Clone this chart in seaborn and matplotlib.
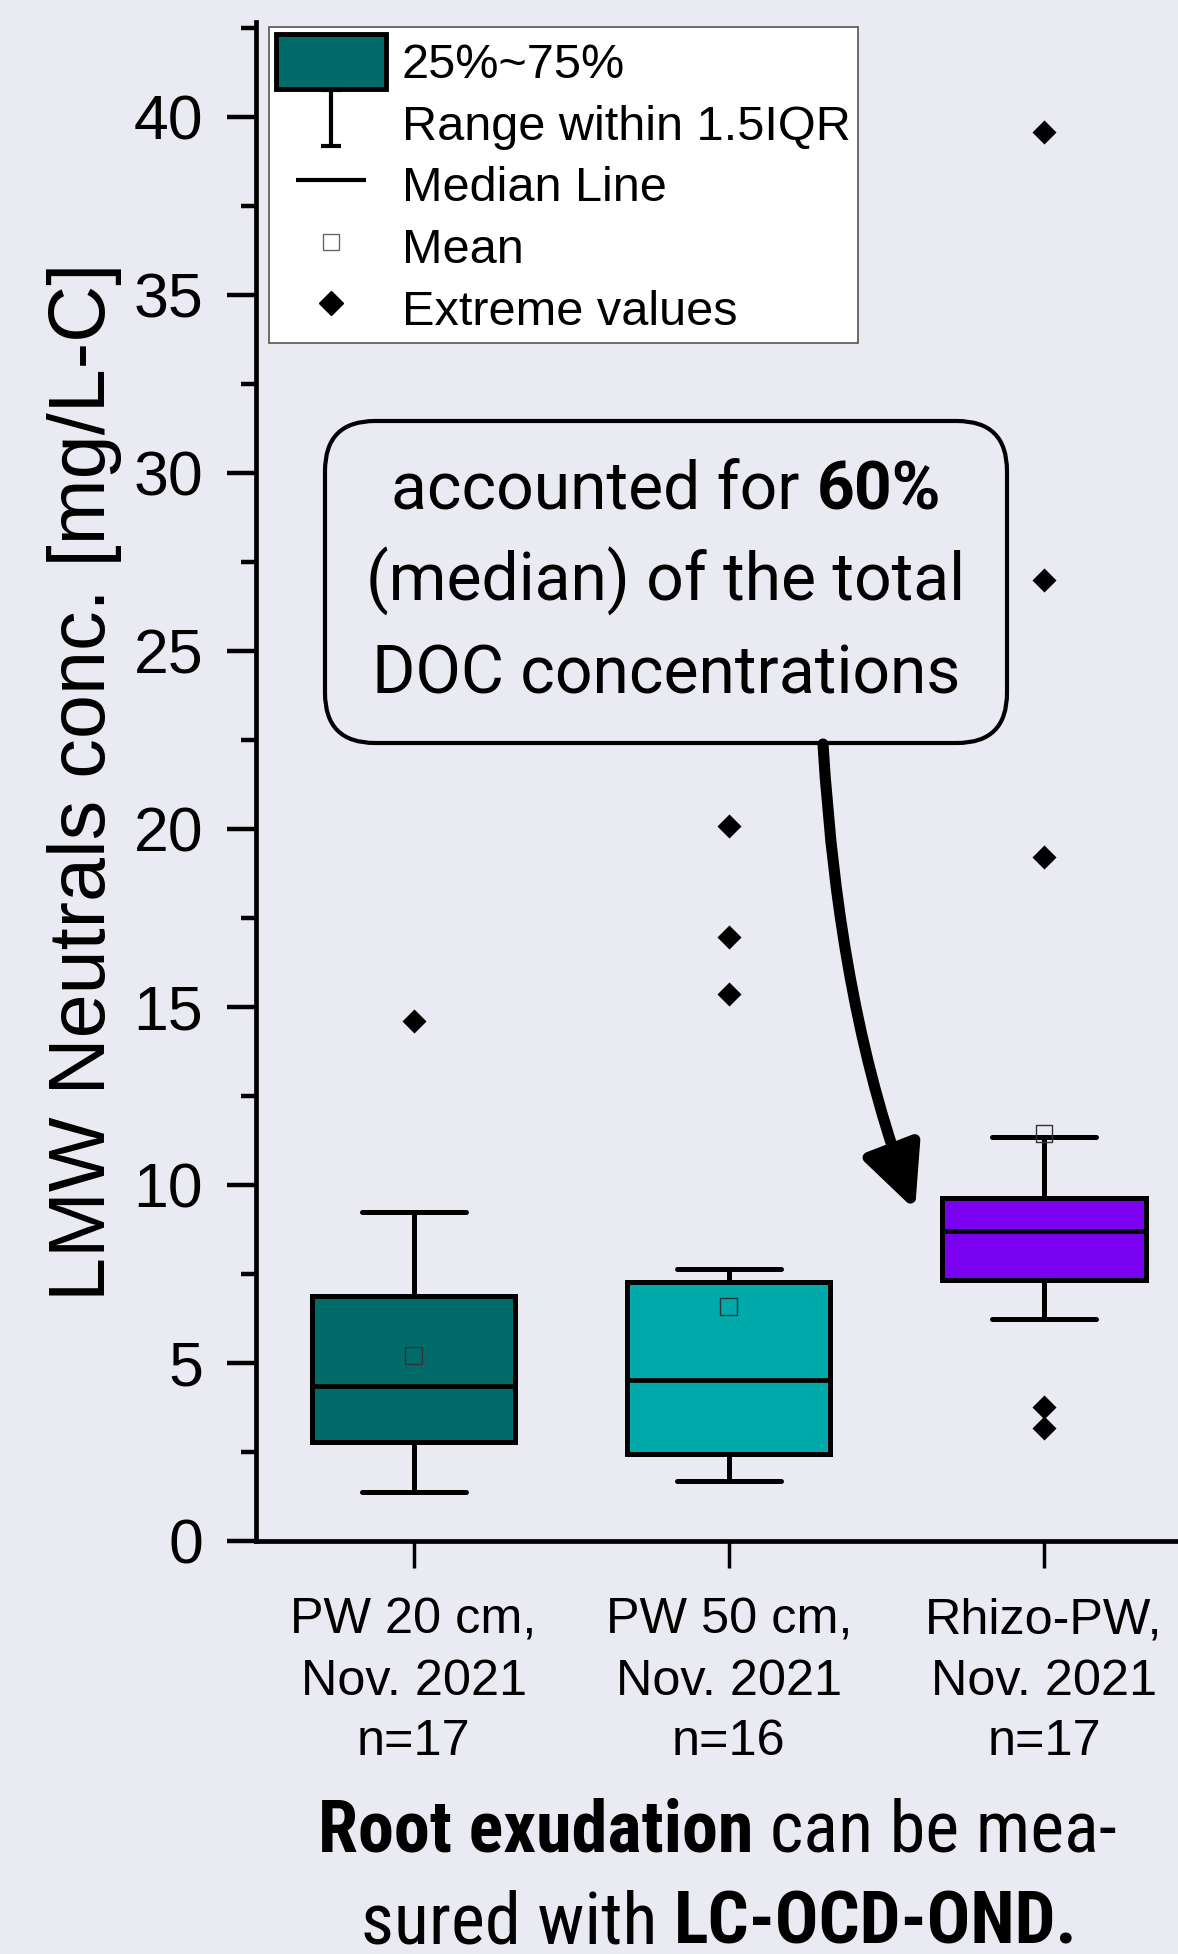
import matplotlib

matplotlib.use("Agg")
import matplotlib.pyplot as plt
import pandas as pd
import seaborn as sns
from matplotlib import font_manager
from matplotlib.lines import Line2D
from matplotlib.patches import ArrowStyle, FancyArrowPatch, FancyBboxPatch, Patch
from matplotlib.path import Path
from matplotlib.ticker import MultipleLocator

# box statistics
groups = ["PW 20 cm,\nNov. 2021\nn=17", "PW 50 cm,\nNov. 2021\nn=16", "Rhizo-PW,\nNov. 2021\nn=17"]
box_colors = ["#006B69", "#00A9AA", "#7A00F0"]
q1 = [2.77, 2.44, 7.33]
median = [4.35, 4.52, 8.71]
q3 = [6.88, 7.28, 9.64]
whisker_low = [1.37, 1.67, 6.23]
whisker_high = [9.25, 7.64, 11.35]
means = [5.21, 6.58, 11.45]
extreme_group = [0, 1, 1, 1, 2, 2, 2, 2, 2]
extreme_values = [14.61, 20.08, 16.97, 15.37, 39.58, 27.0, 19.2, 3.77, 3.16]

legend_labels = ["25%~75%", "Range within 1.5IQR", "Median Line", "Mean", "Extreme values"]
ylabel = "LMW Neutrals conc. [mg/L-C]"

BG = "#EAEAF2"
sns.set_theme(style="ticks", rc={"axes.facecolor": BG, "figure.facecolor": BG, "savefig.facecolor": BG})
plt.rcParams["font.family"] = ["Liberation Sans", "DejaVu Sans"]

installed = {f.name for f in font_manager.fontManager.ttflist}
if "Roboto Condensed" in installed:
    cond_family, cond_size = "Roboto Condensed", 52
elif "Liberation Sans Narrow" in installed:
    cond_family, cond_size = "Liberation Sans Narrow", 52
else:
    cond_family, cond_size = "Roboto", 45

fig = plt.figure(figsize=(11.78, 19.54), dpi=100)
ax = fig.add_axes([0.2173, 0.2114, 0.7827, 0.7774])

stats = [
    dict(med=m, q1=a, q3=b, whislo=lo, whishi=hi, fliers=[])
    for m, a, b, lo, hi in zip(median, q1, q3, whisker_low, whisker_high)
]
bp = ax.bxp(
    stats,
    positions=range(len(stats)),
    widths=0.645,
    capwidths=0.33,
    patch_artist=True,
    showfliers=False,
    manage_ticks=False,
    boxprops=dict(linewidth=3.6, edgecolor="black"),
    whiskerprops=dict(linewidth=3.6, color="black"),
    capprops=dict(linewidth=3.6, color="black", solid_capstyle="round"),
    medianprops=dict(linewidth=3.4, color="black", solid_capstyle="butt"),
)
for patch, color in zip(bp["boxes"], box_colors):
    patch.set_facecolor(color)

extremes = pd.DataFrame({"pos": extreme_group, "value": extreme_values})
sns.scatterplot(data=extremes, x="pos", y="value", marker="D", s=150, color="black",
                edgecolor="black", linewidth=0, ax=ax, zorder=4, legend=False)
mean_df = pd.DataFrame({"pos": range(len(means)), "value": means})
sns.scatterplot(data=mean_df, x="pos", y="value", marker="s", s=144, facecolor="none",
                edgecolor="#333333", linewidth=1.0, ax=ax, zorder=4, legend=False)

ax.set_xlim(-0.5, 2.425)
ax.set_ylim(0, 42.67)
ax.set_xticks(range(len(groups)), groups)
ax.yaxis.set_major_locator(MultipleLocator(5))
ax.yaxis.set_minor_locator(MultipleLocator(2.5))
ax.tick_params(axis="y", which="major", direction="out", length=21, width=3.2, pad=17,
               labelsize=45, color="black", labelcolor="black")
ax.tick_params(axis="y", which="minor", direction="out", length=11, width=3.2, color="black")
ax.tick_params(axis="x", direction="out", length=19.5, width=2.5, pad=21.5, labelsize=36.3,
               color="black", labelcolor="black")
for lab in ax.get_xticklabels():
    lab.set_linespacing(1.41)
ax.set_xlabel("")
ax.set_ylabel(ylabel, fontsize=57, color="black")
ax.yaxis.set_label_coords(-0.145, 0.5)
sns.despine(ax=ax)
for side in ("left", "bottom"):
    ax.spines[side].set_linewidth(3.4)
    ax.spines[side].set_color("black")

# legend
i_marker = Path(
    [(-0.36, 1), (0.36, 1), (0, 1), (0, -1), (-0.36, -1), (0.36, -1)],
    [Path.MOVETO, Path.LINETO, Path.MOVETO, Path.LINETO, Path.MOVETO, Path.LINETO],
)
handles = [
    Patch(facecolor=box_colors[0], edgecolor="black", linewidth=3.5),
    Line2D([], [], linestyle="none", marker=i_marker, markersize=40, markeredgewidth=3,
           markeredgecolor="black", fillstyle="none"),
    Line2D([], [], linestyle="none", marker="_", markersize=51, markeredgewidth=3,
           markeredgecolor="black"),
    Line2D([], [], linestyle="none", marker="s", markersize=12, markerfacecolor="none",
           markeredgecolor="#666666", markeredgewidth=1),
    Line2D([], [], linestyle="none", marker="D", markersize=12.5, color="black"),
]
leg = ax.legend(handles, legend_labels, loc="upper left",
                bbox_to_anchor=((269 - 256) / 922, (1541 - 27) / 1519), borderaxespad=0,
                fontsize=35, handlelength=2.25, handleheight=1.35, handletextpad=0.33,
                labelspacing=0.15, borderpad=0.15, frameon=True, fancybox=False,
                framealpha=1, facecolor="white", edgecolor="#555555")
leg.get_frame().set_linewidth(1.2)
for t in leg.get_texts():
    t.set_color("black")


def rich_line(pieces, xc, yb, size, family):
    r = fig.canvas.get_renderer()
    with_sp = fig.text(0, 0, "a a", fontsize=size, family=family)
    no_sp = fig.text(0, 0, "aa", fontsize=size, family=family)
    gap = (with_sp.get_window_extent(r).width - no_sp.get_window_extent(r).width) / fig.dpi
    with_sp.remove()
    no_sp.remove()
    items = [fig.text(0, yb, s, fontsize=size, family=family, weight=w, ha="left",
                      va="baseline", color="black", transform=fig.dpi_scale_trans, zorder=6)
             for s, w in pieces]
    widths = [t.get_window_extent(r).width / fig.dpi for t in items]
    x = xc - (sum(widths) + gap * (len(items) - 1)) / 2
    for t, w in zip(items, widths):
        t.set_x(x)
        x += w + gap


# callout box and arrow
fig.add_artist(FancyBboxPatch((3.25, 12.11), 6.82, 3.22, boxstyle="round,pad=0,rounding_size=0.5",
                              transform=fig.dpi_scale_trans, facecolor=BG, edgecolor="black",
                              linewidth=3, zorder=5))
rich_line([("accounted for", "normal"), ("60%", "bold")], 6.66, 14.44, 47.5, "Roboto")
rich_line([("(median) of the total", "normal")], 6.66, 13.53, 47.5, "Roboto")
rich_line([("DOC concentrations", "normal")], 6.66, 12.61, 47.5, "Roboto")

fig.add_artist(FancyArrowPatch((8.23, 12.10), (9.15, 7.44),
                               connectionstyle="angle3,angleA=-86.6,angleB=-69",
                               arrowstyle=ArrowStyle("-|>", head_length=3.8, head_width=1.8),
                               mutation_scale=10, linewidth=8, color="black",
                               transform=fig.dpi_scale_trans, shrinkA=0, shrinkB=0, zorder=6))

# caption
rich_line([("Root exudation", "bold"), ("can be mea-", "normal")], 7.17, 1.02, cond_size, cond_family)
rich_line([("sured with", "normal"), ("LC-OCD-OND.", "bold")], 7.19, 0.11, cond_size, cond_family)

fig.savefig("out.png", dpi=100)
